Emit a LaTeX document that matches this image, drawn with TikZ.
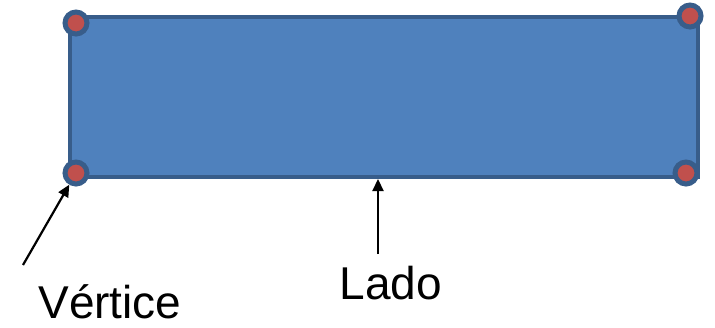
\documentclass[tikz,border=0pt]{standalone}
\usepackage{fontspec}
\setmainfont{Liberation Sans}
\usetikzlibrary{arrows.meta}
\definecolor{shapeFill}{HTML}{4F81BD}
\definecolor{shapeLine}{HTML}{385D8A}
\definecolor{dotRed}{HTML}{C0504D}
\tikzstyle{box}=[draw=shapeLine, fill=shapeFill, line width=4pt]
\tikzstyle{v}=[circle, inner sep=0pt, minimum size=22pt, draw=shapeLine, line width=5pt, fill=dotRed]
\tikzstyle{lbl}=[inner sep=0pt, font=\fontsize{46}{50}\selectfont, anchor=base]
\tikzstyle{edge}=[line width=2.2pt, -{Triangle[length=12pt, width=11pt]}]

\begin{document}
\begin{tikzpicture}[x=1pt, y=-1pt]
	\useasboundingbox (0,0) rectangle (715,327);
	\draw[box] (70,17) rectangle (698,177);
	\node[v] (tl) at (76,23) {};
	\node[v] (tr) at (690,16) {};
	\node[v] (bl) at (76,173) {};
	\node[v] (br) at (686,173) {};
	\coordinate (side) at (378,179);
	\node[lbl] (vert) at (110,318) {Vértice};
	\node[lbl] (lado) at (391,299) {Lado};
	\coordinate (vtail) at (23,265);
	\coordinate (ltail) at (378,254);
	\draw[edge] (vtail) -- (bl);
	\draw[edge] (ltail) -- (side);
\end{tikzpicture}
\end{document}
